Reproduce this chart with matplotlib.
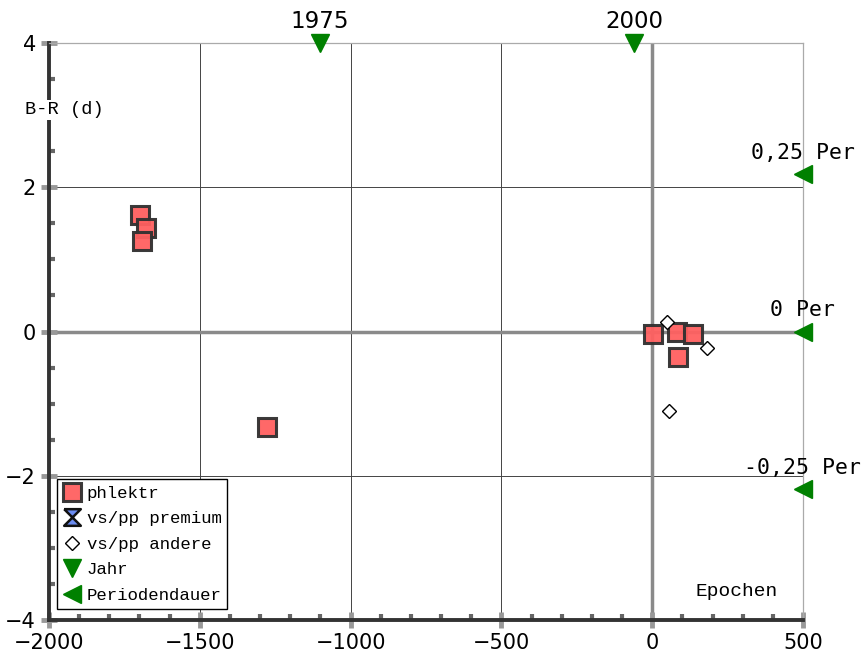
import matplotlib
matplotlib.use("Agg")
import matplotlib.pyplot as plt
from matplotlib.ticker import MultipleLocator

# ---- data ----
phlektr_x = [-1697, -1680, -1692, -1277, 2, 81, 134, 87]
phlektr_y = [1.61, 1.44, 1.26, -1.33, -0.03, 0.0, -0.03, -0.36]
premium_x = []
premium_y = []
andere_x = [48, 181, 56]
andere_y = [0.13, -0.23, -1.10]
jahr_x = [-1101, -60]
jahr_labels = ["1975", "2000"]
per_y = [2.18, 0.0, -2.18]
per_labels = ["0,25 Per", "0 Per", "-0,25 Per"]
xlim = (-2000, 500)
ylim = (-4, 4)

mono = ["Liberation Mono", "DejaVu Sans Mono"]

fig = plt.figure(figsize=(8.68, 6.60), dpi=100)
ax = fig.add_axes([49/868, 40/660, 754/868, 577/660])
ax.set_xlim(*xlim)
ax.set_ylim(*ylim)

# grid
for gx in [-1500, -1000, -500]:
    ax.axvline(gx, color="#444444", lw=0.7, zorder=0)
for gy in [2, -2]:
    ax.axhline(gy, color="#444444", lw=0.7, zorder=0)
ax.axvline(0, color="#8a8a8a", lw=2.5, zorder=0.5)
ax.axhline(0, color="#8a8a8a", lw=2.5, zorder=0.5)

# spines
for s in ["top", "right"]:
    ax.spines[s].set_color("#aaaaaa")
    ax.spines[s].set_linewidth(0.9)
for s in ["left", "bottom"]:
    ax.spines[s].set_color("#333333")
    ax.spines[s].set_linewidth(2.8)

ax.xaxis.set_major_locator(MultipleLocator(500))
ax.xaxis.set_minor_locator(MultipleLocator(100))
ax.yaxis.set_major_locator(MultipleLocator(2))
ax.yaxis.set_minor_locator(MultipleLocator(0.5))
ax.tick_params(which="major", direction="inout", length=11, width=3.5,
               color="#999999", labelsize=15, pad=4)
ax.tick_params(which="minor", direction="in", length=4, width=3,
               color="#666666")
ax.tick_params(top=False, right=False, which="both")
for lab in ax.get_xticklabels() + ax.get_yticklabels():
    lab.set_fontfamily("DejaVu Sans")

# data marks
ax.plot(phlektr_x, phlektr_y, "s", ms=12.5, mfc="#ff6060", mec="#303030",
        mew=2.2, alpha=0.95, ls="none", label="phlektr", zorder=4)
hourglass = [(-1, 1), (1, 1), (-1, -1), (1, -1), (-1, 1)]
ax.plot(premium_x, premium_y, marker=hourglass, ms=12, mfc="#6b8cf0",
        mec="#111111", mew=1.8, ls="none", label="vs/pp premium")
ax.plot(andere_x, andere_y, "D", ms=7.3, mfc="white", mec="black",
        mew=1.0, ls="none", label="vs/pp andere", zorder=5)
ax.plot(jahr_x, [ylim[1]] * len(jahr_x), "v", ms=13, color="green",
        ls="none", label="Jahr", clip_on=False, zorder=6)
ax.plot([xlim[1]] * len(per_y), per_y, "<", ms=13, color="green",
        ls="none", label="Periodendauer", clip_on=False, zorder=6)

for x, t in zip(jahr_x, jahr_labels):
    ax.annotate(t, (x, ylim[1]), xytext=(0, 7), textcoords="offset points",
                ha="center", va="bottom", fontsize=16.5,
                family="DejaVu Sans", annotation_clip=False)
for y, t in zip(per_y, per_labels):
    ax.annotate(t, (xlim[1], y), xytext=(0, 8), textcoords="offset points",
                ha="center", va="bottom", fontsize=15.5,
                family="DejaVu Sans Mono", annotation_clip=False)

ax.text((64-49)/754, (620-110)/577, "B-R (d)", transform=ax.transAxes,
        ha="center", va="center", fontsize=13.5, family=mono,
        bbox=dict(facecolor="white", edgecolor="none", pad=1.0), zorder=7,
        clip_on=False)
ax.text((737-49)/754, (620-591)/577, "Epochen", transform=ax.transAxes,
        ha="center", va="center", fontsize=14, family=mono)

leg = ax.legend(loc="lower left", bbox_to_anchor=((57-49)/754, (620-609)/577),
                borderaxespad=0, fancybox=False, edgecolor="black",
                framealpha=1, prop={"family": mono, "size": 12.5},
                handlelength=1.0, handletextpad=0.35, labelspacing=0.6,
                borderpad=0.35, markerscale=1.0)
leg.get_frame().set_linewidth(1.0)
leg.set_zorder(10)

fig.savefig("out.png", dpi=100)
